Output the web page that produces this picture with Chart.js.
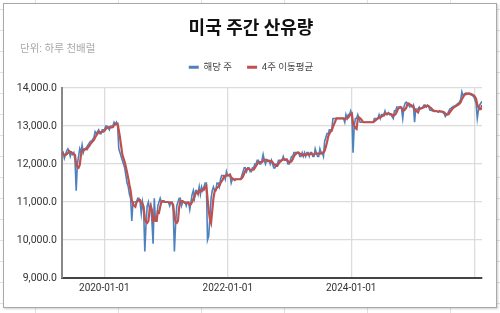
<!DOCTYPE html>
<html>
<head>
<meta charset="utf-8">
<script src="https://cdn.jsdelivr.net/npm/chart.js@4.4.1/dist/chart.umd.min.js"></script>
<style>
  html, body { margin: 0; padding: 0; }
  body {
    width: 500px; height: 313px; overflow: hidden; position: relative;
    background-color: #fff;
    /* spreadsheet cells behind the chart */
    background-image:
      linear-gradient(to right, #e1e1e1 1px, transparent 1px),
      linear-gradient(to bottom, #e1e1e1 1px, transparent 1px);
    background-size: 83px 100%, 100% 21px;
    background-position: 35px 0, 0 9px;
  }
  #card {
    position: absolute; left: 3px; top: 3px;
    width: 492px; height: 303px;
    border: 1px solid #a9a9a9; background: #fff;
    box-shadow: 1px 1px 2px rgba(0, 0, 0, 0.2);
  }
  canvas { display: block; }
</style>
</head>
<body>
<div id="card"><canvas id="myChart" width="492" height="303"></canvas></div>
<script>
const canvas = document.getElementById("myChart");
const ctx = canvas.getContext("2d");

// weekly US crude production, thousand b/d, one value per week ending Friday
const firstWeek = "2019-04-26";
const prod2019 = [12250, 12300, 12150, 12250, 12350, 12400, 12350, 12200, 12300, 12250,
    12300, 12100, 11300, 12000, 12200, 12400, 12300, 12500, 12300, 12400,
    12400, 12450, 12500, 12550, 12600, 12600, 12650, 12700, 12850, 12800,
    12850, 12900, 12800, 12800, 12900, 12900];
const prod2020 = [12900, 13000, 13000, 12950, 12900, 13000, 13000, 13000, 13100, 13050, 13100, 13000,
    12400, 12300, 12200, 12100, 12000, 11900, 11700, 11500, 11400, 11200, 11100, 10500,
    11000, 11000, 11000, 11000, 11100, 11100, 11000, 10700, 11000, 10800, 9700, 10400,
    10900, 11000, 10800, 10900, 10500, 9900, 11100, 10500, 10500, 10900, 11000, 11100,
    11000, 11000, 11000, 11000];
const prod2021 = [11000, 11000, 11000, 10900, 11000, 11000, 10800, 9700, 10400, 10900, 11000, 11100, 11100,
    10900, 11000, 11000, 11000, 10900, 11000, 11000, 10800, 11000, 11200, 11300, 11100, 11300,
    11300, 11200, 11400, 11200, 11400, 11300, 11400, 11500, 11500, 10000, 10100, 10600, 11100,
    11300, 11400, 11300, 11300, 11500, 11500, 11400, 11600, 11700, 11700, 11700, 11600, 11800, 11700];
const prod2022 = [11700, 11700, 11500, 11600, 11600, 11600, 11600, 11600, 11600, 11600, 11600, 11700, 11800,
    11900, 11900, 11800, 11900, 11900, 11800, 11800, 11900, 11900, 12000, 12000, 12100, 12100,
    12000, 12000, 12100, 12250, 12100, 12000, 12100, 12100, 12100, 12000, 12100, 12000, 11900,
    11900, 12000, 12000, 12100, 12100, 12100, 12100, 12200, 12100, 12100, 12100, 12000, 12000];
const prod2023 = [12100, 12200, 12200, 12300, 12300, 12300, 12300, 12300, 12200, 12200, 12300, 12200, 12300,
    12200, 12300, 12300, 12200, 12300, 12300, 12200, 12200, 12400, 12300, 12200, 12200, 12400,
    12300, 12300, 12200, 12600, 12700, 12800, 12800, 12900, 12900, 12900, 13200, 13200, 13200,
    13200, 13200, 13200, 13200, 13200, 13200, 13200, 13100, 13300, 13200, 13300, 13300, 13400];
const prod2024 = [13300, 12300, 13000, 13200, 13200, 13300, 13200, 13100, 13100, 13100, 13100, 13100, 13100,
    13100, 13100, 13100, 13100, 13100, 13100, 13200, 13200, 13200, 13200, 13300, 13200, 13300,
    13300, 13300, 13400, 13300, 13300, 13350, 13300, 13300, 13250, 13200, 13400, 13400, 13500,
    13500, 13500, 13500, 13450, 13200, 13500, 13600, 13630, 13600, 13550, 13500, 13550, 13500];
const prod2025 = [13550, 13100, 13450, 13450, 13450, 13500, 13450, 13470, 13500, 13550, 13550, 13500, 13550,
    13500, 13420, 13420, 13400, 13400, 13380, 13400, 13380, 13370, 13400, 13380, 13380, 13350,
    13330, 13250, 13300, 13330, 13400, 13450, 13470, 13500, 13520, 13530, 13550, 13580, 13600,
    13630, 13700, 13900, 13800, 13840, 13860, 13860, 13850, 13860, 13830, 13820, 13800, 13770];
const prod2026 = [13700, 13600, 13200, 13420, 13550, 13600, 13650];

const xTickDates = ["2020-01-01", "2022-01-01", "2024-01-01", "2026-01-01"];
const xTickLabels = ["2020-01-01", "2022-01-01", "2024-01-01", ""]; // last one is cut off in the original
const yTicks = [9000, 10000, 11000, 12000, 13000, 14000];
const seriesNames = ["해당 주", "4주 이동평균"];

const DAY = 86400000;
const t0 = Date.parse(firstWeek);
const weekly = [].concat(prod2019, prod2020, prod2021, prod2022, prod2023, prod2024, prod2025, prod2026);
const weekPts = weekly.map((v, i) => ({ x: t0 + i * 7 * DAY, y: v }));
// 4 week moving average of the weekly values above
const avgPts = weekly.map((v, i) => {
    const win = weekly.slice(Math.max(0, i - 3), i + 1);
    return { x: weekPts[i].x, y: win.reduce((a, b) => a + b, 0) / win.length };
});

const FONT = "Roboto, 'Noto Sans CJK KR', sans-serif";

const layoutFix = {
    id: "layoutFix",
    beforeInit(chart) {
        // legend box is too tall by default, pin its height
        const lg = chart.legend;
        const fit = lg.fit;
        lg.fit = function () {
            fit.call(this);
            this.height = 40.5;
        };
    },
    afterLayout(chart) {
        // y labels are wider than the axis box, don't let them get clipped
        chart.scales.y.left = 0;
    }
};

new Chart(ctx, {
    type: "line",
    data: {
        datasets: [
            {
                label: seriesNames[0],
                data: weekPts,
                borderColor: "#4f81bd",
                backgroundColor: "#4f81bd",
                borderWidth: 1.6,
                pointRadius: 0,
                order: 1
            },
            {
                label: seriesNames[1],
                data: avgPts,
                borderColor: "#c0504d",
                backgroundColor: "#c0504d",
                borderWidth: 2.2,
                pointRadius: 0,
                order: 0 // red on top
            }
        ]
    },
    plugins: [layoutFix],
    options: {
        responsive: false,
        animation: false,
        layout: { padding: { left: 16, right: 14, top: 0, bottom: 0 } },
        plugins: {
            tooltip: { enabled: false },
            title: {
                display: true,
                text: "미국 주간 산유량",
                color: "#111",
                font: { family: FONT, size: 18, weight: "bold", lineHeight: 1.2 },
                padding: { top: 15, bottom: 0 }
            },
            subtitle: {
                display: true,
                text: "단위: 하루 천배럴",
                align: "start",
                color: "#a8a8a8",
                font: { family: FONT, size: 10.5, lineHeight: 0.1 },
                padding: { top: 7.9, bottom: -2 }
            },
            legend: {
                position: "top",
                labels: {
                    boxWidth: 10,
                    boxHeight: 3,
                    padding: 15,
                    color: "#444",
                    font: { family: FONT, size: 9.5 },
                    sort: (a, b) => a.datasetIndex - b.datasetIndex,
                    generateLabels: (chart) =>
                        Chart.defaults.plugins.legend.labels.generateLabels(chart)
                            .map(l => ({ ...l, lineWidth: 0 }))
                }
            }
        },
        scales: {
            x: {
                type: "linear",
                min: weekPts[0].x,
                max: weekPts[weekPts.length - 1].x,
                afterBuildTicks: (s) => { s.ticks = xTickDates.map(d => ({ value: Date.parse(d) })); },
                afterFit: (s) => { s.height = 29; },
                ticks: {
                    autoSkip: false,
                    maxRotation: 0,
                    padding: 4,
                    color: "#333",
                    font: { family: FONT, size: 10 },
                    callback: (v, i) => xTickLabels[i]
                },
                grid: { color: "#dcdcdc", lineWidth: 1.3, drawTicks: false },
                border: { color: "#444", width: 2 }
            },
            y: {
                min: yTicks[0],
                max: yTicks[yTicks.length - 1],
                afterBuildTicks: (s) => { s.ticks = yTicks.map(v => ({ value: v })); },
                afterFit: (s) => { s.width = 42; },
                ticks: {
                    padding: 5,
                    color: "#333",
                    font: { family: FONT, size: 10.5 },
                    callback: (v) => v.toLocaleString("en-US", { minimumFractionDigits: 1, maximumFractionDigits: 1 })
                },
                grid: { color: "#dcdcdc", lineWidth: 1.3, drawTicks: false },
                border: { color: "#888", width: 2 }
            }
        }
    }
});
</script>
</body>
</html>
